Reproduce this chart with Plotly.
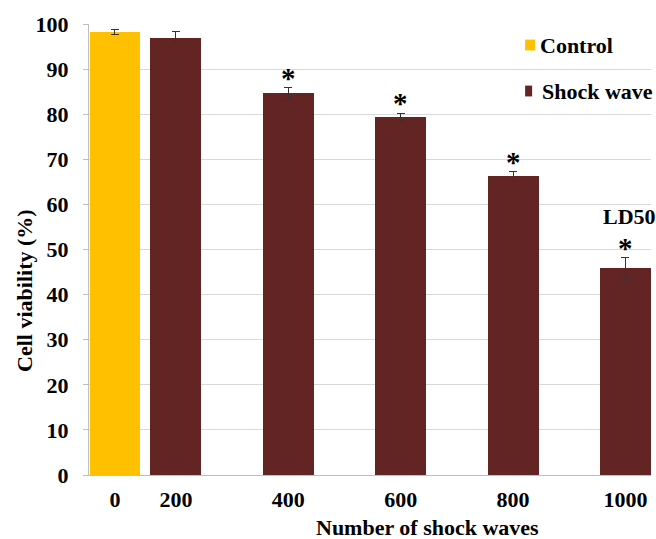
import plotly.graph_objects as go

# Cell viability after shock-wave exposure (mean ± SD)
categories = ["0", "200", "400", "600", "800", "1000"]
control_values = [98.3]
control_errors = [0.55]
shock_values = [97.0, 84.6, 79.3, 66.2, 45.9]
shock_errors = [1.25, 1.25, 0.95, 1.05, 2.3]
significant = [False, True, True, True, True]
ld50_index = 4

CONTROL_COLOR = "#FFC000"
SHOCK_COLOR = "#632523"
FONT = "Liberation Serif"

# layout of the bar slots: control sits next to the first shock-wave bar
PAIR_OFFSET = 0.542
BAR_WIDTH = 0.453
control_x = [0.0]
shock_x = [PAIR_OFFSET + i for i in range(len(shock_values))]

fig = go.Figure()
fig.add_trace(go.Bar(
    x=control_x, y=control_values, width=BAR_WIDTH, name="Control",
    marker=dict(color=CONTROL_COLOR, line=dict(width=0)),
    error_y=dict(type="data", array=control_errors, color="#333333",
                 thickness=1, width=4),
    showlegend=False,
))
fig.add_trace(go.Bar(
    x=shock_x, y=shock_values, width=BAR_WIDTH, name="Shock wave",
    marker=dict(color=SHOCK_COLOR, line=dict(width=0)),
    error_y=dict(type="data", array=shock_errors, color="#333333",
                 thickness=1, width=4),
    showlegend=False,
))

annotations = []
# significance asterisks above the error bars
for x, v, e, sig in zip(shock_x, shock_values, shock_errors, significant):
    if sig:
        annotations.append(dict(
            x=x, y=v + e + 2.2, xref="x", yref="y", text="<b>*</b>",
            showarrow=False, yanchor="middle",
            font=dict(family=FONT, size=29, color="black"),
        ))
# LD50 label over the last dose
annotations.append(dict(
    x=shock_x[ld50_index], y=shock_values[ld50_index] + shock_errors[ld50_index] + 9.2,
    xref="x", yref="y", text="<b>LD50</b>", showarrow=False, yanchor="middle",
    xshift=4, font=dict(family=FONT, size=22, color="black"),
))

# axis titles
annotations.append(dict(
    x=0.603, y=-0.085, xref="paper", yref="paper", text="<b>Number of shock waves</b>",
    showarrow=False, xanchor="center", yanchor="top",
    font=dict(family=FONT, size=22, color="black"),
))
annotations.append(dict(
    x=-0.116, y=0.41, xref="paper", yref="paper", text="<b>Cell viability (%)</b>",
    showarrow=False, xanchor="center", yanchor="middle", textangle=-90,
    font=dict(family=FONT, size=22, color="black"),
))

# legend entries
legend_items = [("Control", CONTROL_COLOR, 0.9534, 0.0178, 0.7987),
                ("Shock wave", SHOCK_COLOR, 0.8514, 0.0125, 0.8028)]
shapes = []
for label, color, yc, w, tx in legend_items:
    shapes.append(dict(type="rect", xref="paper", yref="paper",
                       x0=0.776, x1=0.776 + w, y0=yc - 0.012, y1=yc + 0.012,
                       fillcolor=color, line=dict(width=0)))
    annotations.append(dict(
        x=tx, y=yc, xref="paper", yref="paper", text=f"<b>{label}</b>",
        showarrow=False, xanchor="left", yanchor="middle",
        font=dict(family=FONT, size=22, color="black"),
    ))

fig.update_layout(
    width=656, height=539,
    margin=dict(l=89, r=5, t=24, b=64),
    paper_bgcolor="white", plot_bgcolor="white",
    font=dict(family=FONT, size=22, color="black"),
    annotations=annotations, shapes=shapes,
    bargap=0,
)
fig.update_xaxes(
    range=[-0.231, shock_x[-1] + 0.227],
    tickmode="array", tickvals=control_x + shock_x,
    ticktext=[f"<b>{c}</b>" for c in categories],
    showgrid=False, zeroline=False,
    showline=True, linecolor="#bfbfbf", linewidth=1,
    ticks="", ticklabelstandoff=5,
    tickfont=dict(family=FONT, size=22, color="black"),
)
fig.update_yaxes(
    range=[0, 100], dtick=10,
    tickvals=list(range(0, 101, 10)),
    ticktext=[f"<b>{v}</b>" for v in range(0, 101, 10)],
    showgrid=True, gridcolor="#d9d9d9", gridwidth=1,
    zeroline=False,
    showline=True, linecolor="#bfbfbf", linewidth=1,
    ticks="outside", ticklen=5, tickcolor="#bfbfbf",
    ticklabelstandoff=10,
    tickfont=dict(family=FONT, size=22, color="black"),
)

fig.write_html("out.html")
